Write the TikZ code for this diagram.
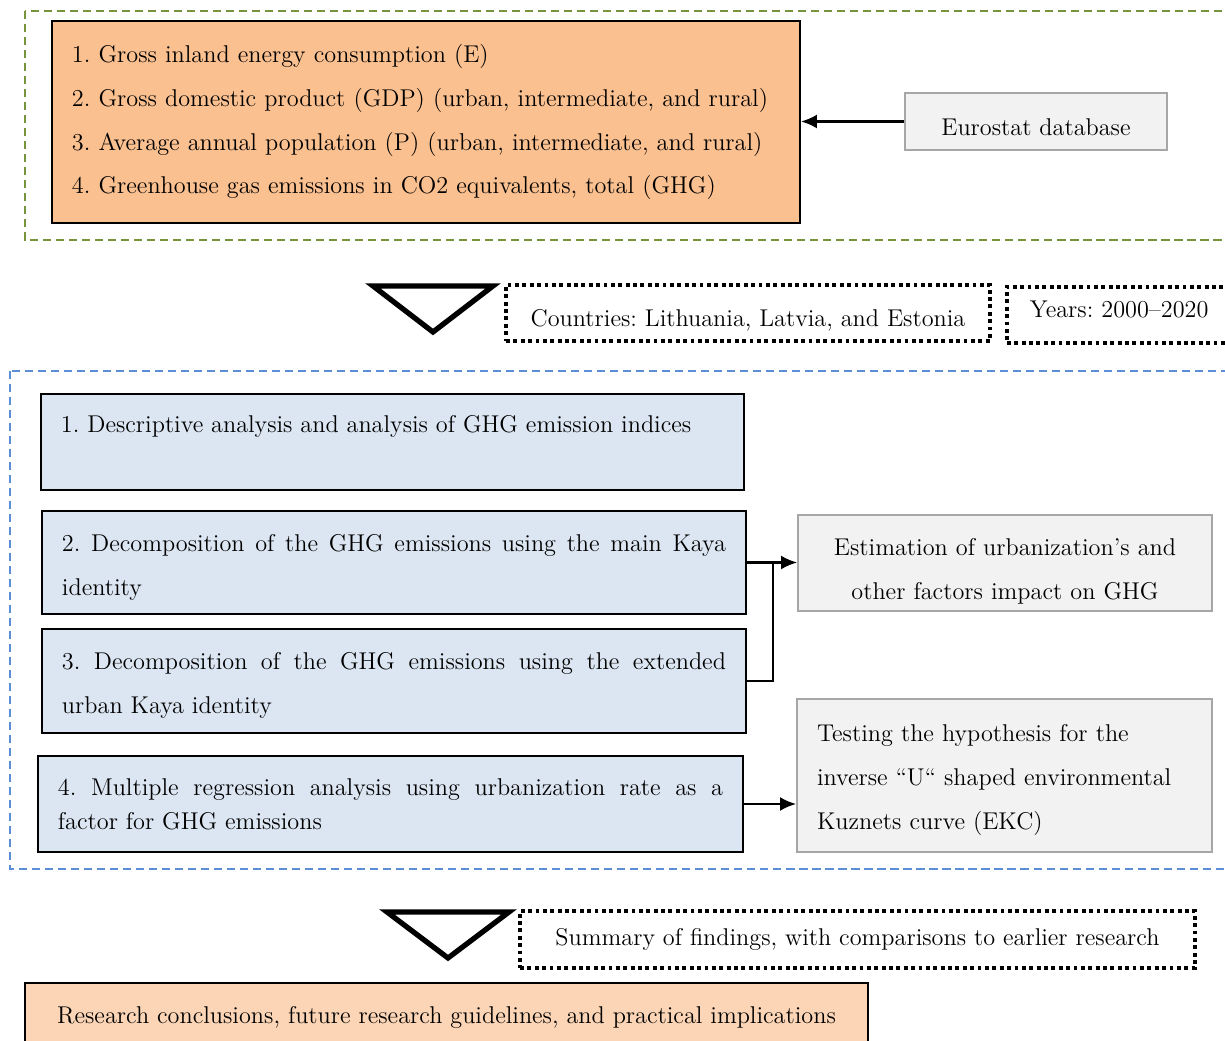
\documentclass[tikz,border=0pt]{standalone}
\usetikzlibrary{arrows.meta,positioning}
\definecolor{FrameGreen}{HTML}{77933C}
\definecolor{FrameBlue}{HTML}{5B8ED6}
\definecolor{DataOrange}{HTML}{FAC090}
\definecolor{StageBlue}{HTML}{DCE6F2}
\definecolor{SourceGray}{HTML}{F2F2F2}
\definecolor{SourceEdge}{HTML}{A6A6A6}
\definecolor{ResultPeach}{HTML}{FBD5B5}

\begin{document}
\begin{tikzpicture}[
  x=0.2mm,y=-0.2mm,
  every node/.style={font=\fontsize{13.8}{25}\selectfont\frenchspacing},
  frame/.style={line width=1.1pt,dash pattern=on 4.6pt off 2.8pt},
  databox/.style={draw,line width=1.1pt,fill=DataOrange,inner xsep=4mm,align=left},
  srcbox/.style={draw=SourceEdge,line width=1.1pt,fill=SourceGray,inner xsep=4mm},
  stagebox/.style={draw,line width=1.1pt,fill=StageBlue,inner xsep=4mm,align=justify},
  notebox/.style={draw,line width=2.2pt,dash pattern=on 2.2pt off 2pt,inner xsep=4.4mm},
  funnel/.style={draw,line width=3pt,line join=miter},
  link/.style={-{Latex[length=3.2mm,width=2.8mm]},line width=1.3pt}
]
  \useasboundingbox (0,0) rectangle (1225,1041);
  \clip (0,0) rectangle (1225,1041);

  \draw[frame,FrameGreen] (25,11) rectangle (1240,240);
  \node[databox,text width=141.6mm,minimum height=40.4mm] (data) at (426,122)
    {1. Gross inland energy consumption (E)\\
     2. Gross domestic product (GDP) (urban, intermediate, and rural)\\
     3. Average annual population (P) (urban, intermediate, and rural)\\
     4. Greenhouse gas emissions in CO2 equivalents, total (GHG)};
  \node[srcbox,minimum width=52.4mm,minimum height=11.4mm,text height=16.2pt] (source) at (1036,121.5) {Eurostat database};
  \draw[link] (source.west) -- (source.west -| data.east);

  \draw[funnel] (373,286) -- (493,286) -- (433,332) -- cycle;
  \node[notebox,minimum width=96.8mm,minimum height=11.2mm,text height=6.6mm,text depth=1mm] (countries) at (748,313)
    {Countries: Lithuania, Latvia, and Estonia};
  \node[notebox,anchor=north west,inner xsep=4.6mm,text width=43mm,minimum height=11.2mm,text height=3.4mm,text depth=2.2mm,align=left] (years) at (1005,285)
    {Years: 2000--2020};

  \draw[frame,FrameBlue] (10,371) rectangle (1240,869);
  \node[stagebox,text width=132.6mm,minimum height=19.2mm,inner ysep=0pt,text height=22pt] (descr) at (392.5,442)
    {1. Descriptive analysis and analysis of GHG emission indices\\ \strut};
  \node[stagebox,text width=132.8mm,minimum height=20.6mm,text height=15.1pt] (kaya) at (394,562.5)
    {2. Decomposition of the GHG emissions using the main Kaya\linebreak identity};
  \node[stagebox,text width=132.8mm,minimum height=20.8mm,text height=15.1pt] (ukaya) at (394,681)
    {3. Decomposition of the GHG emissions using the extended\linebreak urban Kaya identity};
  \node[stagebox,text width=133mm,minimum height=19.2mm,font=\fontsize{13.8}{19.3}\selectfont\frenchspacing] (regr) at (390.5,804)
    {4. Multiple regression analysis using urbanization rate as a\linebreak factor for GHG emissions};
  \node[srcbox,text width=74.8mm,minimum height=19.2mm,align=center,text height=19.7pt] (impact) at (1005,563)
    {Estimation of urbanization's and\\ other factors impact on GHG};
  \node[srcbox,text width=75mm,minimum height=30.6mm,align=left,text height=15.1pt] (ekc) at (1004.5,775.5)
    {Testing the hypothesis for the\\ inverse ``U`` shaped environmental\\ Kuznets curve (EKC)};
  \draw[link] (kaya.east) -- (kaya.east -| impact.west);
  \draw[line width=1.3pt] (ukaya.east) -| ([xshift=5.2mm]kaya.east);
  \draw[link] (regr.east) -- (regr.east -| ekc.west);

  \draw[funnel] (387,912) -- (509,912) -- (448,958) -- cycle;
  \node[notebox,minimum width=135mm,minimum height=11.4mm] (summary) at (857.5,939.5)
    {Summary of findings, with comparisons to earlier research};
  \node[draw,line width=0.9pt,fill=ResultPeach,minimum width=168.6mm,minimum height=13.6mm] (concl) at (446.5,1017)
    {Research conclusions, future research guidelines, and practical implications};
\end{tikzpicture}
\end{document}
